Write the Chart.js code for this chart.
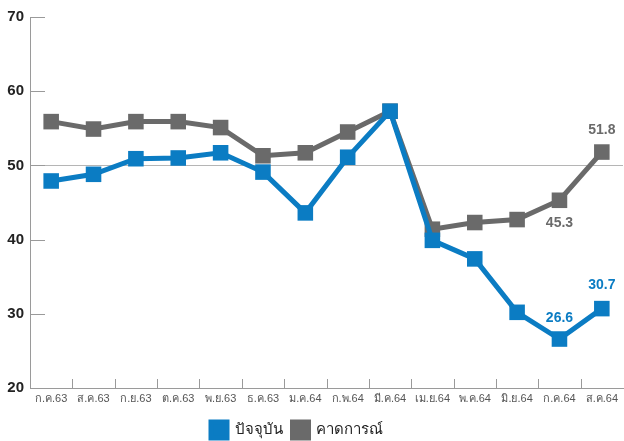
<!DOCTYPE html>
<html>
<head>
<meta charset="utf-8">
<script src="https://cdn.jsdelivr.net/npm/chart.js"></script>
<style>
  html, body { margin: 0; padding: 0; background: #fff; overflow: hidden; }
  #wrap { width: 624px; height: 441px; overflow: hidden; }
</style>
</head>
<body>
<div id="wrap"><canvas id="sentimentChart" width="634" height="441"></canvas></div>
<script>
const months = ['ก.ค.63', 'ส.ค.63', 'ก.ย.63', 'ต.ค.63', 'พ.ย.63', 'ธ.ค.63', 'ม.ค.64',
                'ก.พ.64', 'มี.ค.64', 'เม.ย.64', 'พ.ค.64', 'มิ.ย.64', 'ก.ค.64', 'ส.ค.64'];
const currentIdx = [47.9, 48.8, 50.9, 51.0, 51.7, 49.1, 43.6, 51.1, 57.3, 39.9, 37.4, 30.2, 26.6, 30.7];
const expectedIdx = [55.9, 54.9, 55.9, 55.9, 55.1, 51.3, 51.7, 54.5, 57.3, 41.4, 42.3, 42.7, 45.3, 51.8];
const yTicks = [20, 30, 40, 50, 60, 70];

const BLUE = '#0b7cc3';
const GREY = '#6a6a6a';
const FONT = "'Liberation Sans', 'Noto Sans', 'DejaVu Sans', sans-serif";

// labels shown only on the last points
const pointLabels = [
    { ds: 1, i: 13, text: '51.8', dy: -22 },
    { ds: 1, i: 12, text: '45.3', dy: 23 },
    { ds: 0, i: 12, text: '26.6', dy: -21 },
    { ds: 0, i: 13, text: '30.7', dy: -23 }
];

const axisMarks = {
    id: 'axisMarks',
    afterLayout(chart) {
        // legend sits a bit left of centre in the original
        chart.legend.left -= 20;
        chart.legend.right -= 20;
    },
    beforeDatasetsDraw(chart) {
        const { ctx, chartArea, scales } = chart;
        ctx.save();
        ctx.strokeStyle = '#9a9a9a';
        ctx.lineWidth = 1;
        // short y ticks inside the plot
        yTicks.forEach(v => {
            const y = Math.round(scales.y.getPixelForValue(v)) + 0.5;
            ctx.beginPath();
            ctx.moveTo(chartArea.left, y);
            ctx.lineTo(chartArea.left + 15, y);
            ctx.stroke();
        });
        // x ticks between categories, pointing up
        for (let i = 1; i < months.length; i++) {
            const x = Math.round((scales.x.getPixelForValue(i - 1) + scales.x.getPixelForValue(i)) / 2) + 0.5;
            ctx.beginPath();
            ctx.moveTo(x, chartArea.bottom);
            ctx.lineTo(x, chartArea.bottom - 9);
            ctx.stroke();
        }
        ctx.restore();
    },
    afterDatasetsDraw(chart) {
        const { ctx } = chart;
        ctx.save();
        ctx.font = 'bold 14px ' + FONT;
        ctx.textAlign = 'center';
        ctx.textBaseline = 'middle';
        pointLabels.forEach(p => {
            const pt = chart.getDatasetMeta(p.ds).data[p.i];
            ctx.fillStyle = p.ds === 0 ? BLUE : GREY;
            ctx.fillText(p.text, pt.x, pt.y + p.dy);
        });
        ctx.restore();
    }
};

const seriesStyle = {
    borderWidth: 5,
    pointStyle: 'rect',
    pointRadius: 11,
    pointHoverRadius: 11,
    pointBorderWidth: 0,
    tension: 0
};

new Chart(document.getElementById('sentimentChart').getContext('2d'), {
    type: 'line',
    data: {
        labels: months,
        datasets: [{
            label: 'ปัจจุบัน',
            data: currentIdx,
            borderColor: BLUE,
            backgroundColor: BLUE,
            ...seriesStyle
        }, {
            label: 'คาดการณ์',
            data: expectedIdx,
            borderColor: GREY,
            backgroundColor: GREY,
            ...seriesStyle
        }]
    },
    options: {
        responsive: false,
        animation: false,
        layout: { padding: { top: 17, right: 0, left: 0, bottom: -7 } },
        plugins: {
            legend: {
                display: true,
                position: 'bottom',
                labels: {
                    boxWidth: 16,
                    boxHeight: 16,
                    color: '#222',
                    font: { family: FONT, size: 15 },
                    padding: 10
                }
            },
            tooltip: { enabled: false }
        },
        scales: {
            x: {
                offset: true,
                grid: { display: false, drawTicks: false },
                border: { display: true, color: '#9a9a9a', width: 1 },
                ticks: {
                    color: '#555',
                    font: { family: FONT, size: 11 },
                    padding: 4,
                    maxRotation: 0,
                    autoSkip: false
                },
                afterFit(scale) { scale.height = 24; }
            },
            y: {
                min: 20,
                max: 70,
                afterBuildTicks(scale) { scale.ticks = yTicks.map(v => ({ value: v })); },
                grid: {
                    drawTicks: false,
                    color: ctx => ctx.tick && ctx.tick.value === 50 ? '#b5b5b5' : 'rgba(0,0,0,0)'
                },
                border: { display: true, color: '#9a9a9a', width: 1 },
                ticks: {
                    color: '#222',
                    font: { family: FONT, size: 15, weight: 'bold' },
                    padding: 6
                },
                afterFit(scale) { scale.width = 30; }
            }
        }
    },
    plugins: [axisMarks]
});
</script>
</body>
</html>
